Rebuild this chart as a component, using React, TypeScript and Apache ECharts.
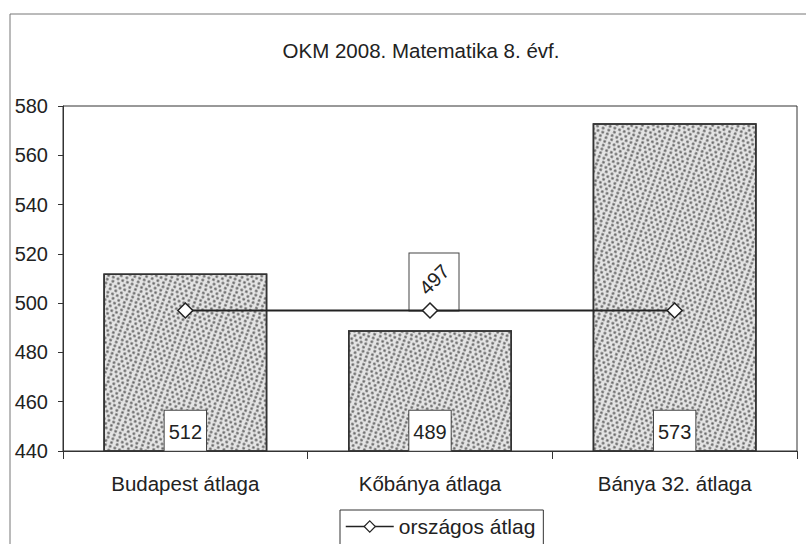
import React, { useEffect, useRef } from "react";
import * as echarts from "echarts";

const titleText = "OKM 2008. Matematika 8. évf.";
const categories = ["Budapest átlaga", "Kőbánya átlaga", "Bánya 32. átlaga"];
const schoolValues = [512, 489, 573];
const nationalName = "országos átlag";
const nationalValues = [497, 497, 497];
const nationalLabelIndex = 1;
const yMin = 440;
const yMax = 580;
const yStep = 20;

const FONT = "Arial, 'Liberation Sans', sans-serif";
const INK = "#222";

export default function App() {
  const ref = useRef<HTMLDivElement>(null);
  useEffect(() => {
    if (!ref.current) return;
    const chart = echarts.init(ref.current, undefined, { renderer: "svg" });
    const labelData = nationalValues.map((v, i) => (i === nationalLabelIndex ? v : null));
    chart.setOption({
      animation: false,
      backgroundColor: "#fff",
      textStyle: { fontFamily: FONT },
      title: {
        text: titleText,
        left: 416,
        textAlign: "center",
        top: 35,
        textStyle: { fontSize: 20.5, fontWeight: "normal", color: INK, fontFamily: FONT },
      },
      graphic: [
        {
          type: "rect",
          shape: { x: 10, y: 14, width: 820, height: 560 },
          style: { fill: "none", stroke: "#777", lineWidth: 1 },
          silent: true,
        },
      ],
      legend: {
        data: [nationalName],
        left: 340,
        top: 510,
        itemWidth: 48,
        itemHeight: 14,
        itemGap: 4,
        itemStyle: { borderWidth: 1.2 },
        lineStyle: { width: 1.5 },
        borderColor: "#333",
        borderWidth: 1,
        padding: [6, 8, 12, 5],
        textStyle: { fontSize: 21, color: INK, fontFamily: FONT },
      },
      grid: {
        left: 63,
        right: 9,
        top: 106,
        bottom: 93,
        show: true,
        borderColor: "#333",
        borderWidth: 1,
        containLabel: false,
      },
      xAxis: {
        type: "category",
        data: categories,
        axisLine: { lineStyle: { color: "#333", width: 1 } },
        axisTick: { show: true, length: 8, lineStyle: { color: "#333" } },
        axisLabel: { fontSize: 20.5, color: INK, margin: 22, fontFamily: FONT },
      },
      yAxis: {
        type: "value",
        min: yMin,
        max: yMax,
        interval: yStep,
        splitLine: { show: false },
        axisLine: { show: true, lineStyle: { color: "#333", width: 1 } },
        axisTick: { show: true, length: 5, lineStyle: { color: "#333" } },
        axisLabel: { fontSize: 20, color: INK, margin: 15, fontFamily: FONT },
      },
      series: [
        {
          type: "bar",
          name: "iskola",
          data: schoolValues,
          barWidth: "67%",
          itemStyle: {
            color: "#e4e4e4",
            borderColor: "#333",
            borderWidth: 1.5,
            decal: {
              symbol: "circle",
              symbolSize: 0.9,
              color: "rgba(70,70,70,0.8)",
              dashArrayX: [
                [3, 2],
                [0, 2.5, 3, 0],
              ],
              dashArrayY: [3, 1],
              rotation: 0.35,
            },
          },
          label: {
            show: true,
            position: "insideBottom",
            distance: 1,
            fontSize: 20,
            color: INK,
            fontFamily: FONT,
            backgroundColor: "#fff",
            borderColor: "#444",
            borderWidth: 1,
            padding: [11, 4, 9, 4],
          },
          z: 1,
        },
        {
          type: "scatter",
          name: "_box",
          data: labelData,
          symbolSize: 0,
          silent: true,
          itemStyle: { opacity: 1 },
          label: {
            show: true,
            position: "top",
            distance: 0,
            formatter: " ",
            width: 49,
            height: 57,
            borderColor: "#444",
            borderWidth: 1,
            backgroundColor: "#fff",
            offset: [4, 0],
          },
          z: 2,
        },
        {
          type: "line",
          name: nationalName,
          data: nationalValues,
          symbol: "diamond",
          symbolSize: [15, 15],
          lineStyle: { color: INK, width: 2 },
          itemStyle: { color: "#fff", borderColor: INK, borderWidth: 1.5 },
          z: 3,
        },
        {
          type: "scatter",
          name: "_label",
          data: labelData,
          symbolSize: 0,
          silent: true,
          itemStyle: { opacity: 1 },
          label: {
            show: true,
            position: "inside",
            rotate: 45,
            offset: [25, -19],
            formatter: "{c}",
            fontSize: 20,
            color: INK,
            fontFamily: FONT,
          },
          z: 4,
        },
      ],
    });
    return () => chart.dispose();
  }, []);
  return (
    <div
      ref={ref}
      style={{ position: "fixed", left: 0, top: 0, width: 806, height: 544 }}
    />
  );
}
